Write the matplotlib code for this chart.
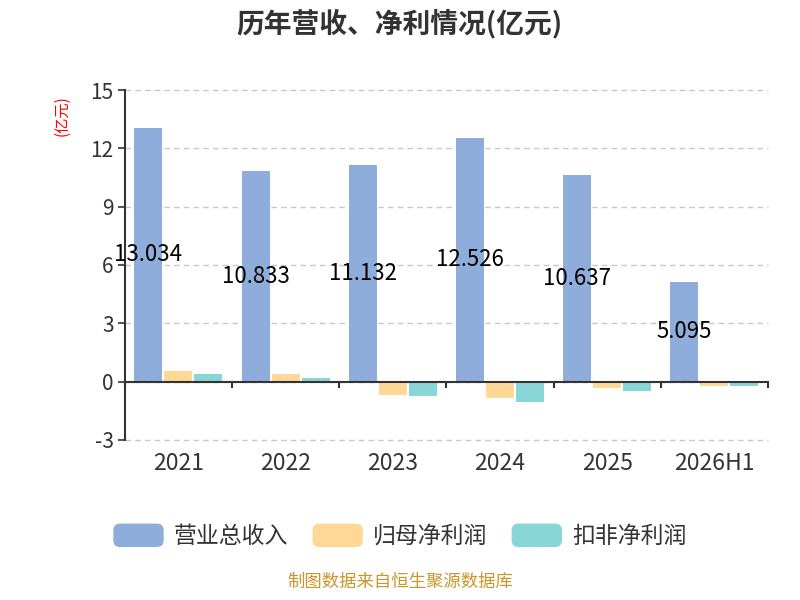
import matplotlib.pyplot as plt
from matplotlib.patches import FancyBboxPatch, Patch
from matplotlib.legend_handler import HandlerPatch
import numpy as np

plt.rcParams['font.family'] = ['Noto Sans CJK SC', 'DejaVu Sans']

years = ['2021', '2022', '2023', '2024', '2025', '2026H1']
revenue = [13.034, 10.833, 11.132, 12.526, 10.637, 5.095]
net_profit = [0.55, 0.38, -0.68, -0.86, -0.35, -0.21]
deducted_profit = [0.37, 0.18, -0.75, -1.03, -0.49, -0.25]
series_names = ['营业总收入', '归母净利润', '扣非净利润']
colors = ['#8eaddb', '#ffd897', '#89d6d9']

fig = plt.figure(figsize=(8, 6), dpi=100)
ax = fig.add_axes([0.156, 0.267, 0.804, 0.583])

x = np.arange(len(years))
w = 0.26
gap = 0.02
for k, (vals, c) in enumerate(zip([revenue, net_profit, deducted_profit], colors)):
    ax.bar(x + (k - 1) * (w + gap), vals, width=w, color=c, zorder=3)

for i, v in enumerate(revenue):
    ax.text(x[i] - (w + gap), v / 2, '{:.3f}'.format(v), ha='center', va='center',
            fontsize=16, color='black', zorder=4)

ax.set_xlim(-0.5, len(years) - 0.5)
ax.set_ylim(-3, 15)
ax.set_yticks([-3, 0, 3, 6, 9, 12, 15])
ax.set_yticklabels(['-3', '0', '3', '6', '9', '12', '15'])
ax.yaxis.grid(True, linestyle=(0, (4, 3)), color='#c8c8c8', linewidth=1, zorder=0)
for gl in ax.get_ygridlines():
    gl.set_clip_on(False)

for s in ['top', 'right', 'bottom']:
    ax.spines[s].set_visible(False)
ax.spines['left'].set_color('#333333')
ax.spines['left'].set_linewidth(1.5)
ax.tick_params(axis='y', colors='#333333', labelsize=15, length=5, width=1.2, pad=3)

ax.set_xticks(x)
ax.set_xticklabels(years)
ax.tick_params(axis='x', length=0, labelsize=16.5, colors='#333333', pad=9)

# zero line with category boundary ticks
ax.axhline(0, color='#333333', linewidth=1.5, zorder=5)
bounds = np.arange(len(years) + 1) - 0.5
for b in bounds:
    ax.plot([b, b], [0, -0.3], color='#333333', linewidth=1.5, zorder=5, clip_on=False)

fig.text(0.078, 0.808, '(亿元)', rotation=90, color='red', fontsize=11, ha='center', va='center')

fig.suptitle('历年营收、净利情况(亿元)', x=0.5, y=0.985, fontsize=20, fontweight='bold', color='#333333')


class RoundHandler(HandlerPatch):
    def create_artists(self, legend, orig_handle, xdescent, ydescent, width, height, fontsize, trans):
        p = FancyBboxPatch((-xdescent, -ydescent), width, height,
                           boxstyle='round,pad=0,rounding_size=5',
                           facecolor=orig_handle.get_facecolor(), edgecolor='none', transform=trans)
        return [p]


handles = [Patch(facecolor=c) for c in colors]
fig.legend(handles, series_names, loc='center', bbox_to_anchor=(0.5, 0.107), ncol=3, frameon=False,
           fontsize=16.5, handlelength=2.2, handleheight=1.2, handletextpad=0.45, columnspacing=1.05,
           handler_map={Patch: RoundHandler()}, labelcolor='#333333')

fig.text(0.5, 0.015, '制图数据来自恒生聚源数据库', ha='center', va='bottom', fontsize=12.5, color='#c9962a')

fig.savefig('out.png', dpi=100)
